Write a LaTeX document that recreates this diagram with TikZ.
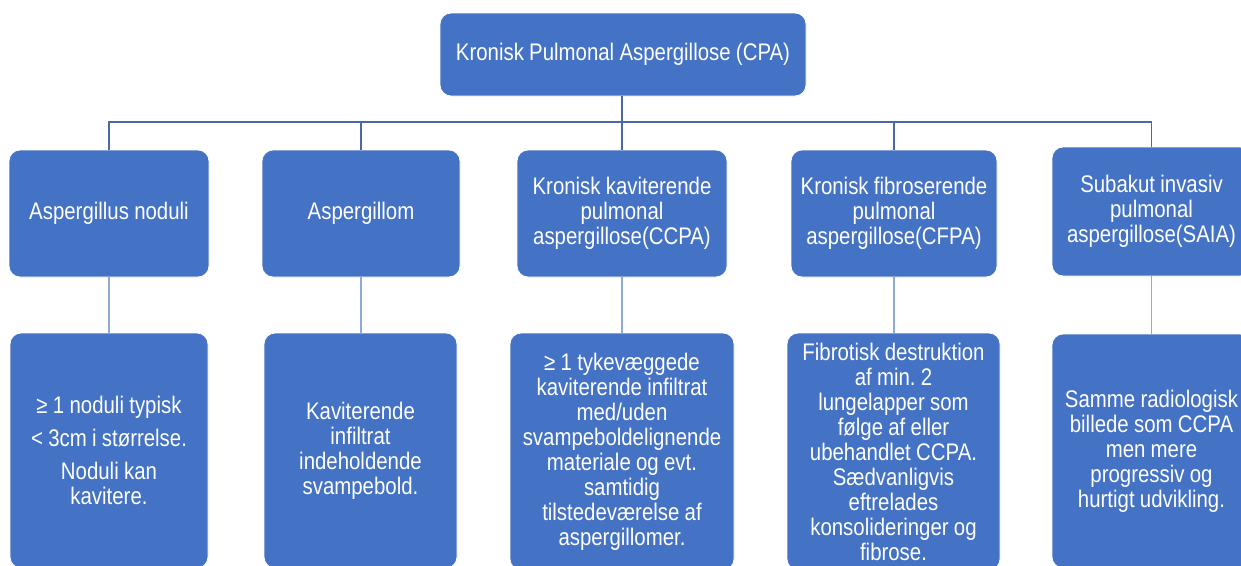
\documentclass[tikz,border=0pt]{standalone}
\usepackage{fontspec}
\setmainfont{Liberation Sans}[FakeStretch=0.85]
\frenchspacing
\definecolor{boxblue}{HTML}{4472C4}
\definecolor{linedark}{HTML}{4A68A6}
\definecolor{linelight}{HTML}{8EA9DB}
\tikzset{
  bx/.style={draw=white, line width=0.8pt, fill=boxblue, rounded corners=11pt, text=white,
    align=center, inner sep=0pt, font=\fontsize{24}{25}\selectfont},
  conn/.style={draw=linedark, line width=1.6pt},
  connl/.style={draw=linelight, line width=1.6pt}
}
\newcommand{\boxat}[6]{% name, x1,y1,x2,y2, text
  \node[bx, minimum width={#4-#2}, minimum height={#5-#3}, text width={#4-#2-8}] (#1) at ({(#2+#4)/2},{(#3+#5)/2}) {\spaceskip=5.3pt\relax #6};}
\begin{document}
\begin{tikzpicture}[x=1pt,y=-1pt]
\useasboundingbox (0,0) rectangle (1241,565);
\boxat{top}{440}{13}{806}{96}{Kronisk Pulmonal Aspergillose (CPA)}
\boxat{a}{9}{150}{209}{277}{Aspergillus noduli}
\boxat{b}{262}{150}{460}{277}{Aspergillom}
\boxat{c}{517}{150}{727}{277}{Kronisk kaviterende\\pulmonal\\aspergillose(CCPA)}
\boxat{d}{791}{150}{997}{277}{Kronisk fibroserende\\pulmonal\\aspergillose(CFPA)}
\boxat{e}{1052}{147}{1251}{276}{Subakut invasiv\\pulmonal\\aspergillose(SAIA)}
\boxat{a2}{10}{333}{208}{568}{≥ 1 noduli typisk\\[8pt]\textless{} 3cm i størrelse.\\[8pt]Noduli kan\\kavitere.}
\boxat{b2}{264}{333}{457}{568}{Kaviterende\\infiltrat\\indeholdende\\svampebold.}
\boxat{c2}{510}{333}{734}{570}{≥ 1 tykevæggede\\kaviterende infiltrat\\med/uden\\svampeboldelignende\\materiale og evt.\\samtidig\\tilstedeværelse af\\aspergillomer.}
\boxat{d2}{787}{333}{1000}{570}{Fibrotisk destruktion\\af min. 2\\lungelapper som\\følge af eller\\ubehandlet CCPA.\\Sædvanligvis\\eftrelades\\konsolideringer og\\fibrose.}
\boxat{e2}{1052}{334}{1251}{568}{Samme radiologisk\\billede som CCPA\\men mere\\progressiv og\\hurtigt udvikling.}
\coordinate (bar) at (622,122);
\draw[conn] (top.south -| bar) -- (bar);
\draw[conn] (a.north) |- (bar) -| (e.north);
\draw[conn] (b.north) -- (b.north |- bar);
\draw[conn] (c.north -| bar) -- (bar);
\draw[conn] (d.north) -- (d.north |- bar);
\draw[connl] (a.south) -- (a2.north -| a.south);
\draw[connl] (b.south) -- (b2.north -| b.south);
\draw[connl] (c.south -| bar) -- (c2.north -| bar);
\draw[connl] (d.south) -- (d2.north -| d.south);
\draw[connl] (e.south) -- (e2.north -| e.south);
\end{tikzpicture}
\end{document}
